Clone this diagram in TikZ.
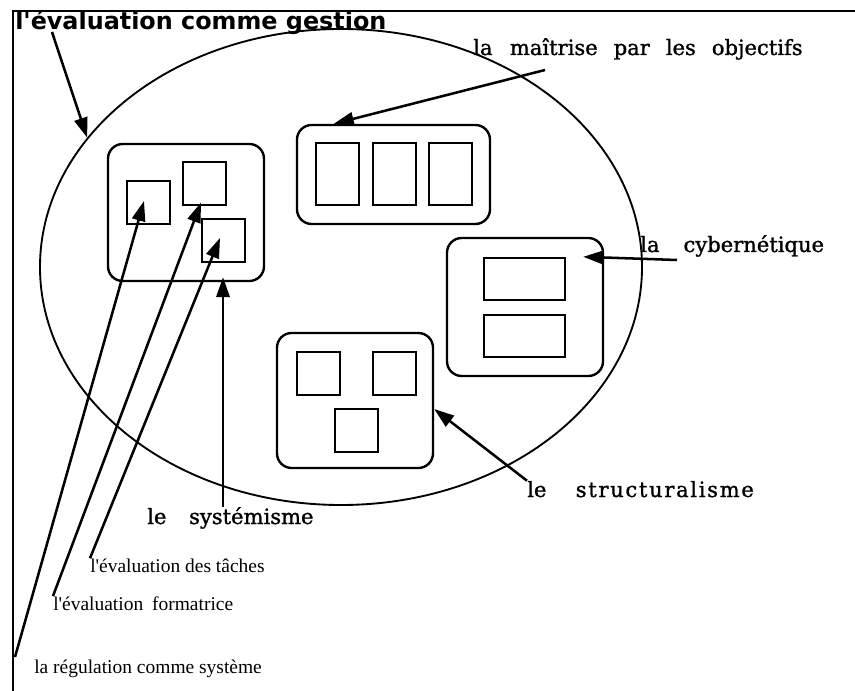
\documentclass[tikz,border=0pt]{standalone}
\usepackage{fontspec}
\setmainfont{DejaVu Serif}[FakeBold=1.2]
\newfontfamily\titlefont{DejaVu Sans}
\newfontfamily\notefont{Liberation Serif}
\usetikzlibrary{arrows.meta,shapes.geometric}

\tikzset{
  groupbox/.style={draw, line width=1.8pt, rounded corners=11pt, inner sep=0pt},
  unitbox/.style={draw, line width=1.5pt, inner sep=0pt, minimum width=32.25pt, minimum height=32.25pt},
  bigtext/.style={anchor=base west, inner sep=0pt, font=\fontsize{15.8}{18}\selectfont},
  smalltext/.style={anchor=base west, inner sep=0pt, font=\notefont\fontsize{14.6}{17}\selectfont},
  pointer/.style={line width=1.9pt, -{Triangle[length=15pt,width=10pt]}},
}

\begin{document}
\begin{tikzpicture}[x=0.75pt,y=0.75pt,yscale=-1,xscale=1]
\useasboundingbox (0,0) rectangle (855,691);

%Frame
\draw [line width=1.2pt] (855,11) -- (13,11) -- (13,691) ;

%Shape: Ellipse
\node [draw, ellipse, line width=1.4pt, inner sep=0pt, minimum width=451.5pt, minimum height=357pt] (gestion) at (341,267) {};

%Shape: Rounded boxes
\node [groupbox, minimum width=117pt, minimum height=102.75pt] (systeme) at (186,212.5) {};
\node [groupbox, minimum width=144.75pt, minimum height=74.25pt] (maitrise) at (393.5,174.5) {};
\node [groupbox, minimum width=117pt, minimum height=103.5pt] (cyber) at (525,307) {};
\node [groupbox, minimum width=117pt, minimum height=101.25pt] (struct) at (355,400.5) {};

%Shape: squares of the systemism box
\node [unitbox] (sqA) at (148,203) {};
\node [unitbox] (sqB) at (204.5,184) {};
\node [unitbox] (sqC) at (223.5,240.5) {};

%Shape: tall rectangles of the objectives box
\node [unitbox, minimum height=46.5pt] (obA) at (337.5,174) {};
\node [unitbox, minimum height=46.5pt] (obB) at (394.5,174) {};
\node [unitbox, minimum height=46.5pt] (obC) at (450,174) {};

%Shape: wide rectangles of the cybernetics box
\node [unitbox, minimum width=60.75pt, minimum height=31.5pt] (cyA) at (524.5,279) {};
\node [unitbox, minimum width=60.75pt, minimum height=31.5pt] (cyB) at (524.5,336) {};

%Shape: squares of the structuralism box
\node [unitbox] (stA) at (318.5,373.5) {};
\node [unitbox] (stB) at (394.5,373.5) {};
\node [unitbox] (stC) at (356.5,430.5) {};

% Text Node
\node [anchor=base west, inner sep=0pt, font=\titlefont\bfseries\fontsize{17.9}{20}\selectfont] (ltitle) at (15,30) {l\textquotesingle évaluation comme gestion};
\node [bigtext] (lmait) at (473,55) {la\hspace{13pt}maîtrise\hspace{12pt}par\hspace{12pt}les\hspace{12pt}objectifs};
\node [bigtext] (lcyb) at (640,252) {la\hspace{18pt}cybernétique};
\node [bigtext] (lstruct) at (527,497) {le\hspace{22pt}\addfontfeature{LetterSpace=8}structuralisme};
\node [bigtext] (lsys) at (147,524) {le\hspace{17pt}systémisme};
\node [smalltext] (ltaches) at (90,572) {l\textquotesingle évaluation des tâches};
\node [smalltext] (lform) at (53,610) {l\textquotesingle évaluation\hspace{3pt} formatrice};
\node [smalltext] (lreg) at (34,673) {la régulation comme système};

%Free ends of the pointers
\coordinate (ct) at (52,32);
\coordinate (cm) at (545,70);
\coordinate (cc) at (677,260);
\coordinate (cy) at (223,507);
\coordinate (cr) at (15,657);

%Straight Lines
\draw [pointer] (ct) -- (gestion.153.3) ;
\draw [pointer] (cm) -- ([xshift=28.5pt]maitrise.north west) ;
\draw [pointer] (cc) -- ([shift={(-21,20)}]cyber.north east) ;
\draw [pointer] (lstruct.north west) -- ([shift={(0,8.5)}]struct.east) ;
\draw [pointer] (cy) -- ([shift={(37,-5)}]systeme.south) ;
\draw [pointer] (cr) -- ([shift={(-4,-2)}]sqA.center) ;
\draw [pointer] (lform.north west) -- ([shift={(-3.5,-4)}]sqB.south) ;
\draw [pointer] (ltaches.north west) -- ([shift={(-3.5,-2.5)}]sqC.center) ;

\end{tikzpicture}
\end{document}
